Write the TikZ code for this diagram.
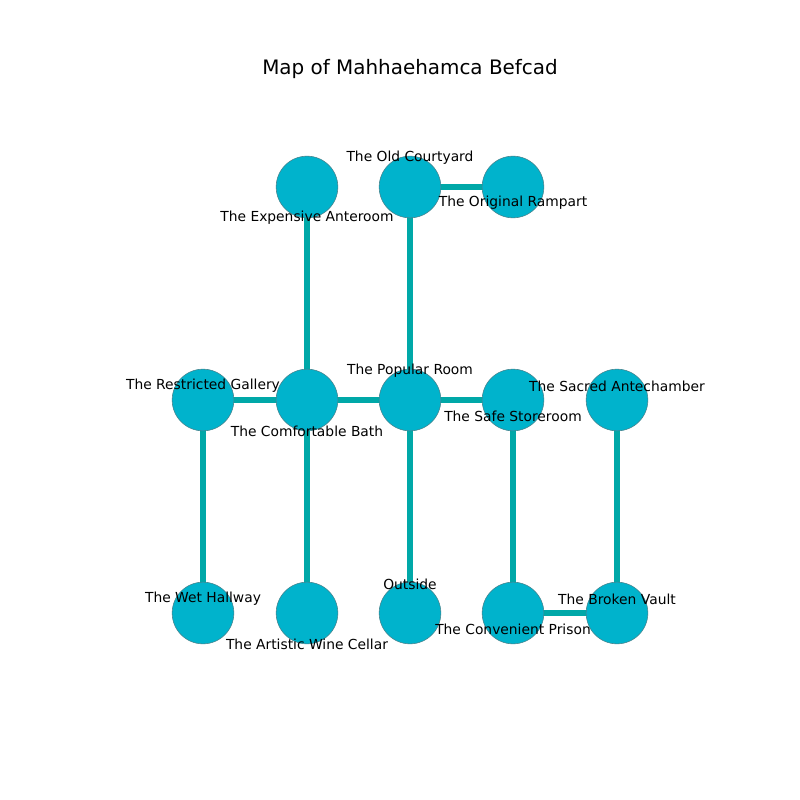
\documentclass[tikz,border=0pt]{standalone}
\usepackage{fontspec}
\setmainfont{DejaVu Sans}
\pgfdeclarelayer{background}
\pgfsetlayers{background,main}
\definecolor{nodefill}{RGB}{0,179,204}
\definecolor{nodeline}{RGB}{70,130,140}
\definecolor{edgecol}{RGB}{0,168,168}
\tikzset{
  room/.style={circle, fill=nodefill, draw=nodeline, line width=0.4pt, minimum size=44.6pt, inner sep=0pt},
  link/.style={draw=edgecol, line width=3.9pt},
  lbl/.style={font=\fontsize{10pt}{12pt}\selectfont, inner sep=0pt, text=black},
}
\begin{document}
\begin{tikzpicture}[x=0.0254cm, y=-0.0254cm]
\useasboundingbox (0,0) rectangle (800,800);
\node[font=\fontsize{14.4pt}{16pt}\selectfont, inner sep=0pt] (title) at (410,69) {Map of Mahhaehamca Befcad};
% nodes
\node[room] (ea) at (307,187) {};
\node[room] (oc) at (410,187) {};
\node[room] (or) at (513,187) {};
\node[room] (rg) at (203,400) {};
\node[room] (cb) at (307,400) {};
\node[room] (pr) at (410,400) {};
\node[room] (ss) at (513,400) {};
\node[room] (sa) at (617,400) {};
\node[room] (wh) at (203,613) {};
\node[room] (aw) at (307,613) {};
\node[room] (ou) at (410,613) {};
\node[room] (cp) at (513,613) {};
\node[room] (bv) at (617,613) {};
% edges (behind nodes)
\begin{pgfonlayer}{background}
\path[link] (ea.center) -- (cb.center);
\path[link] (oc.center) -- (pr.center);
\path[link] (oc.center) -- (or.center);
\path[link] (rg.center) -- (cb.center);
\path[link] (cb.center) -- (pr.center);
\path[link] (pr.center) -- (ss.center);
\path[link] (rg.center) -- (wh.center);
\path[link] (cb.center) -- (aw.center);
\path[link] (pr.center) -- (ou.center);
\path[link] (ss.center) -- (cp.center);
\path[link] (sa.center) -- (bv.center);
\path[link] (cp.center) -- (bv.center);
\end{pgfonlayer}
% labels
\node[lbl] (lea) at (307,218) {The Expensive Anteroom};
\node[lbl] (loc) at (410,158) {The Old Courtyard};
\node[lbl] (lor) at (513,203) {The Original Rampart};
\node[lbl] (lrg) at (203,386) {The Restricted Gallery};
\node[lbl] (lcb) at (307,431) {The Comfortable Bath};
\node[lbl] (lpr) at (410,371) {The Popular Room};
\node[lbl] (lss) at (513,416) {The Safe Storeroom};
\node[lbl] (lsa) at (617,386) {The Sacred Antechamber};
\node[lbl] (lwh) at (203,599) {The Wet Hallway};
\node[lbl] (law) at (307,644) {The Artistic Wine Cellar};
\node[lbl] (lou) at (410,584) {Outside};
\node[lbl] (lcp) at (513,629) {The Convenient Prison};
\node[lbl] (lbv) at (617,599) {The Broken Vault};
\end{tikzpicture}
\end{document}
